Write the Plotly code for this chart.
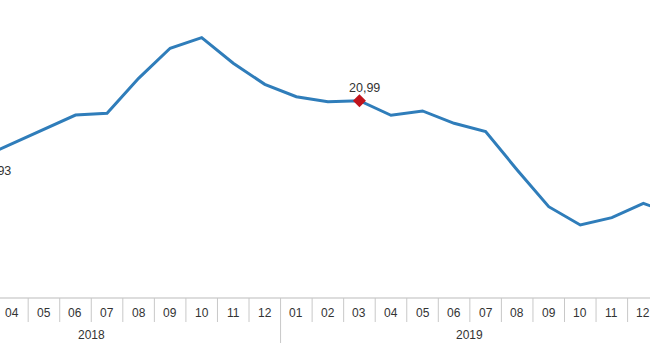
import plotly.graph_objects as go

# Data (month index: 0 = Jan 2018)
month_labels = ["03", "04", "05", "06", "07", "08", "09", "10", "11", "12",
                "01", "02", "03", "04", "05", "06", "07", "08", "09", "10", "11", "12", "01"]
years = ["2018"] * 10 + ["2019"] * 12 + ["2020"]
values = [15.93, 17.21, 18.49, 19.72, 19.87, 22.97, 25.63, 26.57, 24.30, 22.44,
          21.34, 20.90, 20.99, 19.70, 20.08, 18.99, 18.25, 14.86, 11.61, 9.99, 10.64, 11.91, 10.87]
highlight_points = [0, 12]   # positions in the list that get a value label
marker_point = 12            # highlighted marker (March 2019)

x_idx = list(range(2, 2 + len(values)))

W, H = 650, 360
XMIN, XMAX = 2.607, 23.21
YMAX = 29.90
YMIN = YMAX - H / 11.3

line_color = "#2f7dba"
text_color = "#333333"
grid_color = "#c8c8c8"
FONT = "Arial, Liberation Sans, sans-serif"

fig = go.Figure()
fig.add_trace(go.Scatter(x=x_idx, y=values, mode="lines",
                         line=dict(color=line_color, width=3), hoverinfo="skip",
                         cliponaxis=False))
fig.add_trace(go.Scatter(x=[x_idx[marker_point]], y=[values[marker_point]], mode="markers",
                         marker=dict(symbol="diamond", size=10, color="#c0141c"),
                         hoverinfo="skip"))


def xpaper(i):
    return (i - XMIN) / (XMAX - XMIN)


def ypaper(px):
    return 1 - px / H


annotations = []
for k in highlight_points:
    txt = f"{values[k]:.2f}".replace(".", ",")
    above = k == marker_point
    annotations.append(dict(
        x=xpaper(x_idx[k]), xref="paper", y=values[k], yref="y",
        xanchor="center", yanchor="middle",
        text=txt, showarrow=False,
        font=dict(family=FONT, size=12.5, color=text_color),
        yshift=13 if above else -13, xshift=5 if above else 15,
    ))

shapes = []
# top line of the axis table
shapes.append(dict(type="line", xref="paper", yref="paper", x0=0, x1=1,
                   y0=ypaper(298), y1=ypaper(298), line=dict(color="#bbbbbb", width=1)))
for k, (i, m, yr) in enumerate(zip(x_idx, month_labels, years)):
    annotations.append(dict(x=xpaper(i), xref="paper", y=ypaper(313), yref="paper",
                            xanchor="center", yanchor="middle",
                            text=m, showarrow=False,
                            font=dict(family=FONT, size=12, color=text_color)))
    if k + 1 < len(x_idx):
        new_year = years[k + 1] != yr
        shapes.append(dict(type="line", xref="paper", yref="paper",
                           x0=xpaper(i + 0.5), x1=xpaper(i + 0.5),
                           y0=ypaper(298), y1=ypaper(343 if new_year else 322),
                           line=dict(color=grid_color, width=1)))

# year labels centred over their months
for yr in ["2018", "2019"]:
    idx = [i for i, y in zip(x_idx, years) if y == yr]
    first = min(idx) if yr != "2018" else 0
    center = (first + max(idx)) / 2
    annotations.append(dict(x=xpaper(center), xref="paper", y=ypaper(335), yref="paper",
                            xanchor="center", yanchor="middle",
                            text=yr, showarrow=False,
                            font=dict(family=FONT, size=12, color=text_color)))

fig.update_layout(
    width=W, height=H,
    margin=dict(l=0, r=0, t=0, b=0),
    paper_bgcolor="white", plot_bgcolor="white",
    showlegend=False,
    xaxis=dict(visible=False, range=[XMIN, XMAX]),
    yaxis=dict(visible=False, range=[YMIN, YMAX]),
    shapes=shapes, annotations=annotations,
)
fig.write_html("out.html", config={"displayModeBar": False},
               post_script="document.body.style.margin='0';document.body.style.overflow='hidden';")
